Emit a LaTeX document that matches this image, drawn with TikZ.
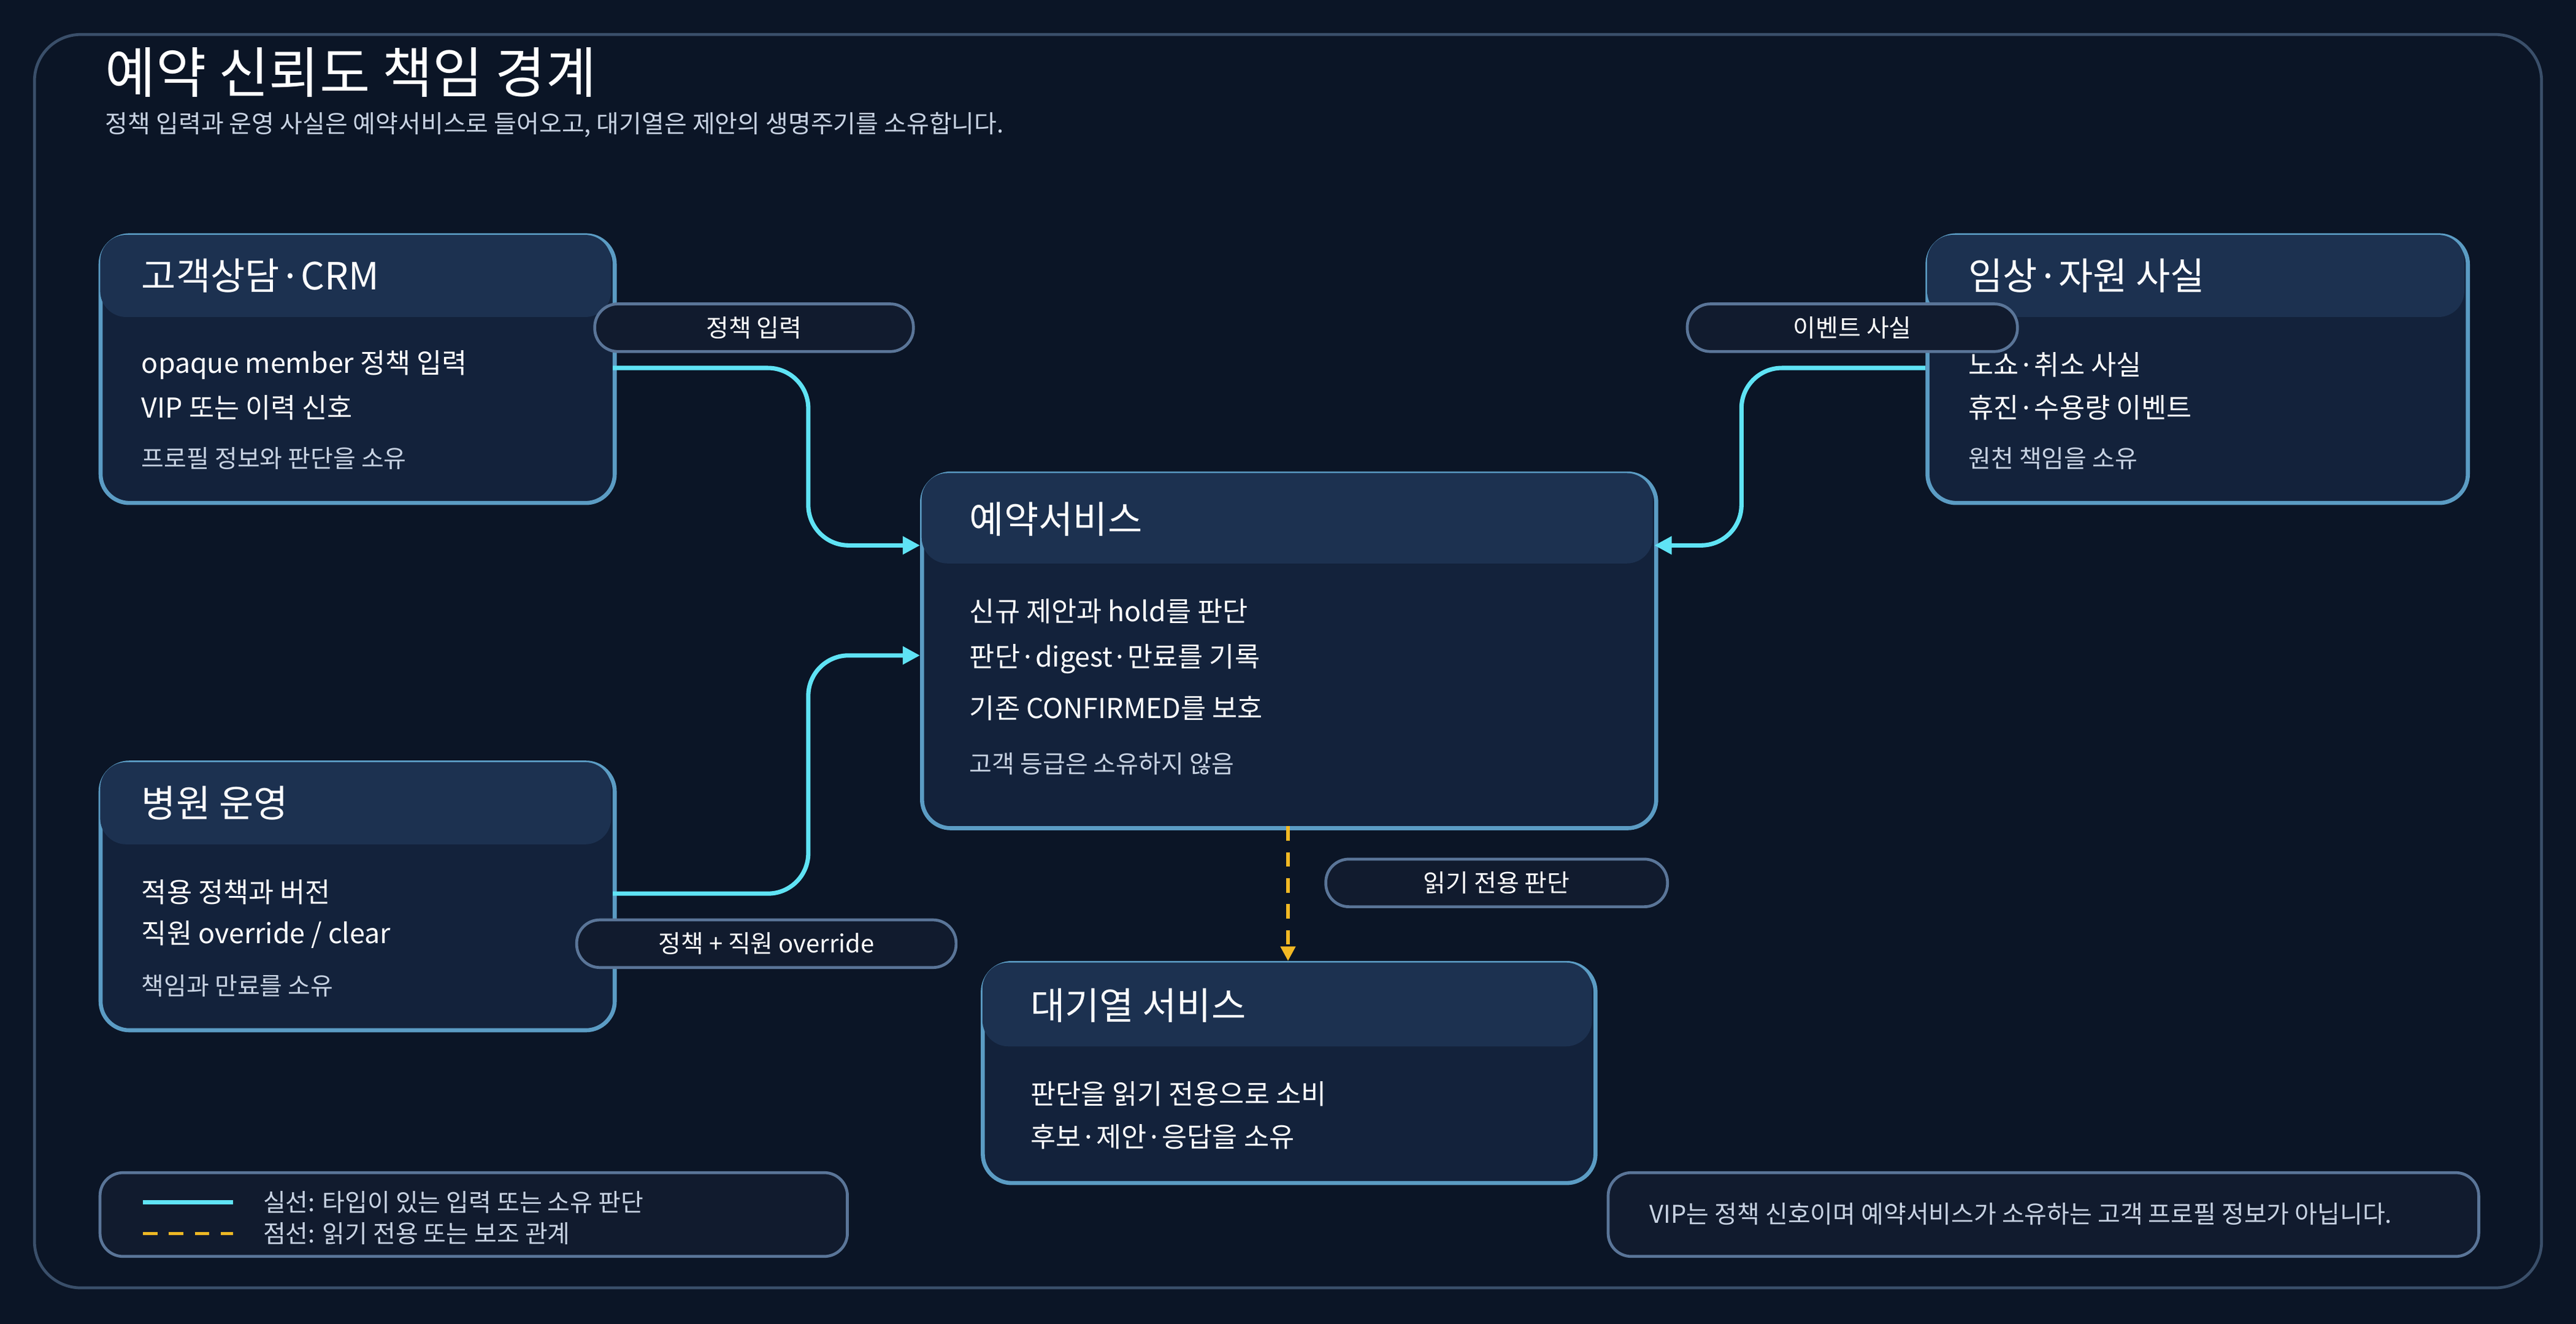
\documentclass[tikz,border=0pt]{standalone}
\usepackage{fontspec}
\setmainfont{Noto Sans CJK KR}
\usetikzlibrary{positioning,arrows.meta}
\definecolor{bgc}{HTML}{0B1526}
\definecolor{headc}{HTML}{1C3150}
\definecolor{bodyc}{HTML}{13223B}
\definecolor{edgec}{HTML}{5B9CC4}
\definecolor{pillc}{HTML}{111B2E}
\definecolor{pilledge}{HTML}{5A7598}
\definecolor{flowc}{HTML}{5FE3F5}
\definecolor{readc}{HTML}{F2B824}
\definecolor{subc}{HTML}{C8D3E3}
\tikzset{
  box/.style={draw=edgec, line width=1.4pt, fill=bodyc, rounded corners=10pt, inner sep=0pt},
  htext/.style={text=white, font=\fontsize{13}{15}\selectfont, anchor=west},
  btext/.style={text=white, font=\fontsize{9.5}{11}\selectfont, anchor=west},
  stext/.style={text=subc, font=\fontsize{8.5}{10}\selectfont, anchor=west},
  pill/.style={draw=pilledge, line width=1pt, fill=pillc, rounded corners=8pt, text=white,
    font=\fontsize{8.5}{10}\selectfont, inner sep=0pt, minimum height=0.58cm},
  flow/.style={flowc, line width=1.5pt, rounded corners=14pt, -{Triangle[length=6pt,width=6pt]}},
  read/.style={readc, line width=1.2pt, dash pattern=on 5pt off 4pt, -{Triangle[length=5pt,width=5pt]}},
}
\begin{document}
\begin{tikzpicture}[x=0.02cm,y=-0.02cm]
\fill[bgc] (0,0) rectangle (1568,806);
\useasboundingbox (0,0) rectangle (1568,806);
\draw[pilledge!60!bgc, line width=1pt, rounded corners=16pt] (21,21) rectangle (1547,784);
% title
\node[text=white, font=\fontsize{19}{22}\selectfont, anchor=west] (title) at (58,44) {예약 신뢰도 책임 경계};
\node[text=subc, font=\fontsize{8.5}{10}\selectfont, anchor=west] (subtitle) at (58,76) {정책 입력과 운영 사실은 예약서비스로 들어오고, 대기열은 제안의 생명주기를 소유합니다.};
% boxes
\node[box, minimum width=6.26cm, minimum height=3.26cm, anchor=north west] (crm) at (60,142) {};
\fill[headc, rounded corners=9pt] (61,143) rectangle (372,193);
\node[htext] (crmh) at (80,168) {고객상담·CRM};
\node[btext] (crm1) at (80,222) {opaque member 정책 입력};
\node[btext] (crm2) at (80,248) {VIP 또는 이력 신호};
\node[stext] (crm3) at (80,279) {프로필 정보와 판단을 소유};

\node[box, minimum width=6.58cm, minimum height=3.26cm, anchor=north west] (clin) at (1172,142) {};
\fill[headc, rounded corners=9pt] (1173,143) rectangle (1500,193);
\node[htext] (clinh) at (1192,168) {임상·자원 사실};
\node[btext] (clin1) at (1192,222) {노쇼·취소 사실};
\node[btext] (clin2) at (1192,248) {휴진·수용량 이벤트};
\node[stext] (clin3) at (1192,279) {원천 책임을 소유};

\node[box, minimum width=6.26cm, minimum height=3.26cm, anchor=north west] (hosp) at (60,463) {};
\fill[headc, rounded corners=9pt] (61,464) rectangle (372,514);
\node[htext] (hosph) at (80,489) {병원 운영};
\node[btext] (hosp1) at (80,543) {적용 정책과 버전};
\node[btext] (hosp2) at (80,569) {직원 override / clear};
\node[stext] (hosp3) at (80,600) {책임과 만료를 소유};

\node[box, minimum width=8.94cm, minimum height=4.32cm, anchor=north west] (resv) at (560,287) {};
\fill[headc, rounded corners=9pt] (561,288) rectangle (1006,343);
\node[htext] (resvh) at (584,316) {예약서비스};
\node[btext] (resv1) at (584,372) {신규 제안과 hold를 판단};
\node[btext] (resv2) at (584,401) {판단·digest·만료를 기록};
\node[btext] (resv3) at (584,431) {기존 CONFIRMED를 보호};
\node[stext] (resv4) at (584,465) {고객 등급은 소유하지 않음};

\node[box, minimum width=7.46cm, minimum height=2.68cm, anchor=north west] (queue) at (597,585) {};
\fill[headc, rounded corners=9pt] (598,586) rectangle (969,637);
\node[htext] (queueh) at (621,612) {대기열 서비스};
\node[btext] (queue1) at (621,666) {판단을 읽기 전용으로 소비};
\node[btext] (queue2) at (621,692) {후보·제안·응답을 소유};

% connectors
\coordinate (crmout) at (373,224);
\coordinate (clinout) at (1172,224);
\coordinate (hospout) at (373,544);
\coordinate (resvin1) at (560,332);
\coordinate (resvin2) at (560,399);
\coordinate (resvin3) at (1007,332);
\coordinate (resvout) at (784,503);
\coordinate (queuein) at (784,585);
\draw[flow] (crmout) -| (492,332) -- (resvin1);
\draw[flow] (clinout) -| (1060,332) -- (resvin3);
\draw[flow] (hospout) -| (492,399) -- (resvin2);
\draw[read] (resvout) -- (queuein);

% pills
\node[pill, minimum width=3.88cm] (p1) at (459,199.5) {정책 입력};
\node[pill, minimum width=4.02cm] (p2) at (1127.5,199.5) {이벤트 사실};
\node[pill, minimum width=4.62cm] (p3) at (466.5,574.5) {정책 + 직원 override};
\node[pill, minimum width=4.16cm] (p4) at (911,537.5) {읽기 전용 판단};

% legend and note
\node[pill, minimum width=9.1cm, minimum height=1.02cm, anchor=north west] (legend) at (60,713) {};
\draw[flowc, line width=1.5pt] (87,732) -- (142,732);
\draw[readc, line width=1.2pt, dash pattern=on 5pt off 4pt] (87,751) -- (142,751);
\node[stext] (leg1) at (154,732) {실선: 타입이 있는 입력 또는 소유 판단};
\node[stext] (leg2) at (154,751) {점선: 읽기 전용 또는 보조 관계};
\node[pill, minimum width=10.6cm, minimum height=1.02cm, anchor=north west] (note) at (978,713) {};
\node[stext] (notet) at (998,739) {VIP는 정책 신호이며 예약서비스가 소유하는 고객 프로필 정보가 아닙니다.};
\end{tikzpicture}
\end{document}
